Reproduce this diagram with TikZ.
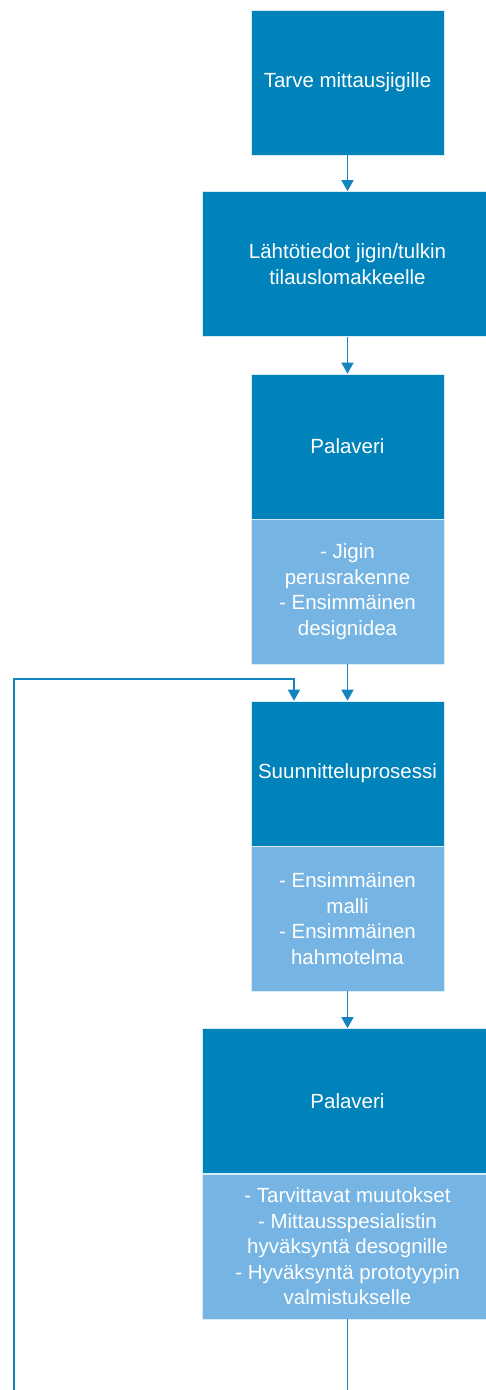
\documentclass[tikz,border=0pt]{standalone}
\usepackage{fontspec}
\setmainfont{Liberation Sans}
\usetikzlibrary{arrows.meta}
\definecolor{darkb}{RGB}{0,131,186}
\definecolor{lightb}{RGB}{118,181,227}
\definecolor{linec}{RGB}{20,132,190}
\tikzset{
  boxbase/.style={rectangle, draw=white!85!darkb, line width=0.6pt, text=white, align=center,
    font=\fontsize{20.5pt}{25.5pt}\selectfont, inner sep=0pt, minimum height=145pt},
  darkbox/.style={boxbase, fill=darkb},
  lightbox/.style={boxbase, fill=lightb},
  narrow/.style={minimum width=193pt},
  wide/.style={minimum width=291pt},
  conn/.style={draw=linec, line width=1.6pt, -{Triangle[width=12pt,length=11pt]}},
  plainconn/.style={draw=linec, line width=1.6pt}
}
\begin{document}
\begin{tikzpicture}[x=1pt,y=1pt]
\useasboundingbox (0,0) rectangle (485,-1390);
\node[darkbox,narrow] (b1) at (347.5,-82.5) {Tarve mittausjigille};
\node[darkbox,wide] (b2) at (347.5,-264) {Lähtötiedot jigin/tulkin\\tilauslomakkeelle};
\node[darkbox,narrow] (b3t) at (347.5,-446.5) {Palaveri};
\node[lightbox,narrow] (b3b) at (347.5,-591.5) {- Jigin\\perusrakenne\\- Ensimmäinen\\designidea};
\node[darkbox,narrow] (b4t) at (347.5,-773.5) {Suunnitteluprosessi};
\node[lightbox,narrow] (b4b) at (347.5,-918.5) {- Ensimmäinen\\malli\\- Ensimmäinen\\hahmotelma};
\node[darkbox,wide] (b5t) at (347.5,-1101) {Palaveri};
\node[lightbox,wide] (b5b) at (347.5,-1246.5) {- Tarvittavat muutokset\\- Mittausspesialistin\\hyväksyntä desognille\\- Hyväksyntä prototyypin\\valmistukselle};
\coordinate (fbstart) at (14,-1395);
\coordinate (fbx) at (294,-679);
\coordinate (bend) at (347.5,-1395);
\draw[conn] (b1) -- (b2);
\draw[conn] (b2) -- (b3t);
\draw[conn] (b3b) -- (b4t);
\draw[conn] (b4b) -- (b5t);
\draw[plainconn] (b5b) -- (bend);
\draw[conn] (fbstart) |- (fbx) -- (b4t.north -| fbx);
\end{tikzpicture}
\end{document}
